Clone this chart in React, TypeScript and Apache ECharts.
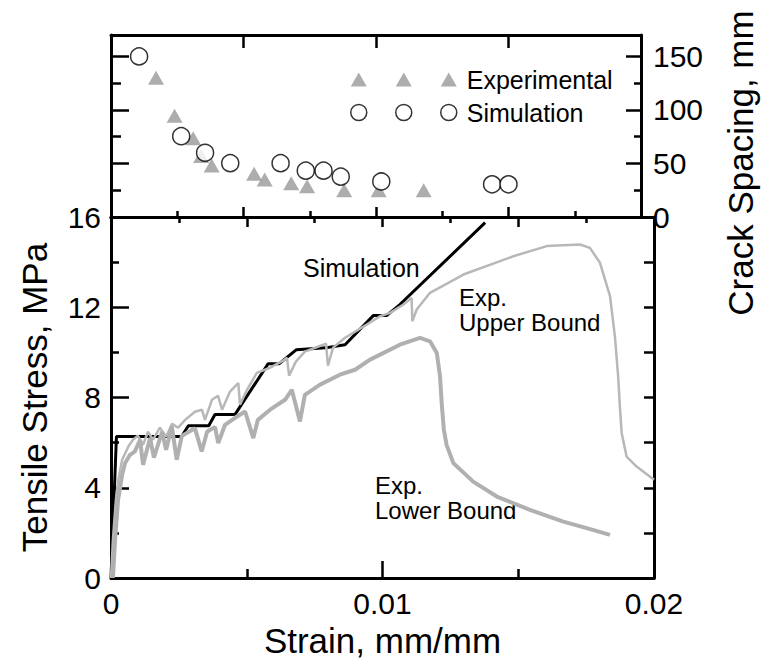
import React, { useEffect, useRef } from 'react';
import * as echarts from 'echarts';

// ---- Crack spacing (top panel) ----
const expCrackStrain = [0.0017, 0.0024, 0.0031, 0.0034, 0.0038, 0.0054, 0.0058, 0.0068, 0.0074, 0.0088, 0.0101, 0.0118];
const expCrackSpacing = [130, 94.5, 73.5, 57, 48, 40.4, 35, 31.5, 28.8, 25, 25, 25];
const simCrackStrain = [0.00106, 0.00265, 0.00355, 0.0045, 0.0064, 0.00735, 0.00802, 0.00867, 0.0102, 0.01438, 0.015];
const simCrackSpacing = [150, 75.5, 60, 50.3, 50.3, 43.3, 43.3, 37.7, 33.2, 30.5, 30.5];

// ---- Stress-strain (bottom panel) ----
const simStrain = [0, 0.0002, 0.0026, 0.00285, 0.0036, 0.00383, 0.00457, 0.00579, 0.0062, 0.00683, 0.0079, 0.00862, 0.00966, 0.01015, 0.01064, 0.01378];
const simStress = [0, 6.27, 6.27, 6.75, 6.75, 7.25, 7.25, 9.5, 9.5, 10.12, 10.2, 10.34, 11.63, 11.63, 12.12, 15.75];

const upperStrain = [0, 0.00007, 0.00018, 0.00027, 0.00041, 0.00064, 0.00081, 0.00099, 0.00118, 0.00136, 0.00155, 0.0018, 0.00203, 0.00225, 0.00247, 0.00273, 0.00309, 0.00335, 0.00346, 0.00372, 0.00394, 0.00409, 0.00438, 0.00469, 0.00475, 0.00501, 0.00537, 0.00586, 0.00634, 0.00648, 0.00656, 0.00681, 0.00714, 0.00762, 0.00792, 0.00799, 0.00818, 0.00862, 0.00942, 0.00991, 0.01028, 0.01077, 0.01107, 0.0111, 0.01126, 0.01175, 0.01298, 0.01482, 0.01605, 0.01727, 0.01764, 0.01801, 0.01838, 0.01856, 0.01868, 0.01875, 0.01881, 0.01899, 0.01936, 0.02];
const upperStress = [0, 1.69, 3.46, 4.35, 5.24, 5.83, 6.13, 6.3, 5.9, 6.48, 6.13, 6.66, 6.26, 6.84, 6.66, 7.01, 7.37, 7.46, 7.01, 7.9, 8.08, 7.46, 8.26, 8.64, 7.68, 8.34, 9.09, 9.32, 9.63, 9.76, 8.97, 9.59, 10.03, 10.25, 10.39, 9.41, 10.21, 10.65, 11.23, 11.6, 11.75, 12.12, 12.41, 11.38, 11.9, 12.64, 13.45, 14.26, 14.71, 14.78, 14.63, 13.97, 12.49, 10.71, 8.93, 7.46, 6.42, 5.38, 4.94, 4.35];

const lowerStrain = [0.00007, 0.00015, 0.00026, 0.00041, 0.00052, 0.0007, 0.00088, 0.00107, 0.00118, 0.00144, 0.00158, 0.00188, 0.00203, 0.00224, 0.00242, 0.00261, 0.00309, 0.00334, 0.00354, 0.00383, 0.00395, 0.0042, 0.00457, 0.00494, 0.00524, 0.00541, 0.00586, 0.00641, 0.00666, 0.00696, 0.00714, 0.0077, 0.00843, 0.00899, 0.00954, 0.00991, 0.01064, 0.01138, 0.01175, 0.012, 0.01212, 0.01218, 0.01226, 0.01236, 0.01261, 0.01334, 0.01421, 0.01543, 0.01666, 0.01752, 0.01838];
const lowerStress = [0, 1.69, 3.46, 4.57, 5.1, 5.46, 5.61, 6.13, 5.02, 6.21, 5.33, 6.48, 5.68, 6.72, 5.24, 6.3, 6.64, 5.61, 6.48, 6.7, 5.98, 6.79, 7.1, 7.38, 6.2, 7.01, 7.46, 7.9, 8.34, 6.94, 8.12, 8.57, 9.01, 9.23, 9.68, 9.9, 10.34, 10.64, 10.49, 9.97, 8.93, 7.75, 6.57, 5.9, 5.09, 4.27, 3.61, 3.02, 2.5, 2.21, 1.91];

const strainTicks = [0, 0.01, 0.02];
const stressTicks = [0, 4, 8, 12, 16];
const spacingTicks = [0, 50, 100, 150];

const FONT = '"Liberation Sans", Arial, sans-serif';

const zip = (xs: number[], ys: number[]) => xs.map((x, i) => [x, ys[i]]);

export default function App() {
  const ref = useRef<HTMLDivElement>(null);
  useEffect(() => {
    const chart = echarts.init(ref.current!, null, { renderer: 'svg' });
    const line = { lineStyle: { color: '#000', width: 3 } };
    const tick = (len: number, show = true) => ({ show, inside: true, length: len, lineStyle: { color: '#000', width: 2.5 } });
    const minor = (len: number, show = true) => ({ show, splitNumber: 2, length: len, lineStyle: { color: '#000', width: 2.5 } });
    const labelStyle = { color: '#000', fontSize: 30, fontFamily: FONT };
    const nameStyle = { color: '#000', fontSize: 35, fontFamily: FONT };

    const triIcon = 'path://M0,14L8,0L16,14Z M45,14L53,0L61,14Z M90,14L98,0L106,14Z M111,7L111,7';
    const circIcon = 'path://M0,8a8,8 0 1,0 16,0a8,8 0 1,0 -16,0Z M45,8a8,8 0 1,0 16,0a8,8 0 1,0 -16,0Z M90,8a8,8 0 1,0 16,0a8,8 0 1,0 -16,0Z M111,8L111,8';

    chart.setOption({
      animation: false,
      backgroundColor: '#fff',
      grid: [
        { left: 111, top: 35, width: 543, height: 182 },
        { left: 111, top: 217, width: 543, height: 361 },
      ],
      legend: {
        orient: 'vertical',
        left: 350,
        top: 67,
        padding: 0,
        itemGap: 8,
        itemWidth: 111,
        itemHeight: 16,
        textStyle: { color: '#000', fontSize: 25, fontFamily: FONT },
        data: [
          { name: 'Experimental', icon: triIcon, itemStyle: { color: '#999', borderWidth: 0 } },
          { name: 'Simulation', icon: circIcon, itemStyle: { color: '#fff', borderColor: '#000', borderWidth: 1.5 } },
        ],
      },
      xAxis: [
        { type: 'value', gridIndex: 0, position: 'bottom', min: 0, max: 0.02, interval: 0.005,
          axisLine: { onZero: false, ...line }, axisTick: tick(10), minorTick: minor(6), axisLabel: { show: false }, splitLine: { show: false } },
        { type: 'value', gridIndex: 0, position: 'top', min: 0, max: 0.02, interval: 0.005,
          axisLine: { onZero: false, ...line }, axisTick: tick(13), minorTick: minor(6, false), axisLabel: { show: false }, splitLine: { show: false } },
        { type: 'value', gridIndex: 1, position: 'bottom', min: strainTicks[0], max: strainTicks[2], interval: 0.01,
          axisLine: { onZero: false, ...line }, axisTick: tick(17), minorTick: minor(9),
          axisLabel: { ...labelStyle, margin: 10, formatter: (v: number) => (strainTicks.includes(v) ? String(v) : '') },
          splitLine: { show: false },
          name: 'Strain, mm/mm', nameLocation: 'middle', nameGap: 39, nameTextStyle: nameStyle },
        { type: 'value', gridIndex: 1, position: 'top', min: 0, max: 0.02, interval: 0.005,
          axisLine: { onZero: false, ...line }, axisTick: tick(10), minorTick: minor(6), axisLabel: { show: false }, splitLine: { show: false } },
      ],
      yAxis: [
        { type: 'value', gridIndex: 0, position: 'left', min: 0, max: 170, interval: 50,
          axisLine: { onZero: false, ...line }, axisTick: tick(18), minorTick: minor(10), axisLabel: { show: false }, splitLine: { show: false } },
        { type: 'value', gridIndex: 0, position: 'right', min: 0, max: 170, interval: 50,
          axisLine: { onZero: false, ...line }, axisTick: tick(15), minorTick: minor(7),
          axisLabel: { ...labelStyle, margin: 12, showMaxLabel: false, formatter: (v: number) => (spacingTicks.includes(v) ? String(v) : '') },
          splitLine: { show: false },
          name: 'Crack Spacing, mm', nameLocation: 'middle', nameGap: 82, nameRotate: 90,
          nameTextStyle: { ...nameStyle, padding: [0, 74, 0, 0] } },
        { type: 'value', gridIndex: 1, position: 'left', min: stressTicks[0], max: stressTicks[4], interval: 4,
          axisLine: { onZero: false, ...line }, axisTick: tick(18), minorTick: minor(8),
          axisLabel: { ...labelStyle, margin: 10 }, splitLine: { show: false },
          name: 'Tensile Stress, MPa', nameLocation: 'middle', nameGap: 59, nameTextStyle: nameStyle },
        { type: 'value', gridIndex: 1, position: 'right', min: 0, max: 16, interval: 2,
          axisLine: { onZero: false, ...line }, axisTick: tick(10), minorTick: minor(5, false), axisLabel: { show: false }, splitLine: { show: false } },
      ],
      series: [
        { name: 'Experimental', type: 'scatter', xAxisIndex: 0, yAxisIndex: 1, symbol: 'triangle', symbolSize: [16, 14],
          itemStyle: { color: '#999' }, data: zip(expCrackStrain, expCrackSpacing), z: 3 },
        { name: 'Simulation', type: 'scatter', xAxisIndex: 0, yAxisIndex: 1, symbol: 'circle', symbolSize: 17,
          itemStyle: { color: '#fff', borderColor: '#000', borderWidth: 1.5 }, data: zip(simCrackStrain, simCrackSpacing), z: 4 },
        { name: 'Simulation stress', type: 'line', xAxisIndex: 2, yAxisIndex: 2, showSymbol: false, symbol: 'none',
          lineStyle: { color: '#000', width: 3 }, data: zip(simStrain, simStress), z: 2 },
        { name: 'Exp. Upper Bound', type: 'line', xAxisIndex: 2, yAxisIndex: 2, showSymbol: false, symbol: 'none',
          lineStyle: { color: '#b8b8b8', width: 2.5 }, data: zip(upperStrain, upperStress), z: 3 },
        { name: 'Exp. Lower Bound', type: 'line', xAxisIndex: 2, yAxisIndex: 2, showSymbol: false, symbol: 'none',
          lineStyle: { color: '#b0b0b0', width: 4 }, data: zip(lowerStrain, lowerStress), z: 3 },
      ],
      graphic: [
        { type: 'text', x: 303, y: 268, style: { text: 'Simulation', font: `25px ${FONT}`, fill: '#000', textVerticalAlign: 'middle' } },
        { type: 'text', x: 459, y: 297, style: { text: 'Exp.', font: `24px ${FONT}`, fill: '#000', textVerticalAlign: 'middle' } },
        { type: 'text', x: 459, y: 322, style: { text: 'Upper Bound', font: `24px ${FONT}`, fill: '#000', textVerticalAlign: 'middle' } },
        { type: 'text', x: 375, y: 485, style: { text: 'Exp.', font: `24px ${FONT}`, fill: '#000', textVerticalAlign: 'middle' } },
        { type: 'text', x: 375, y: 510, style: { text: 'Lower Bound', font: `24px ${FONT}`, fill: '#000', textVerticalAlign: 'middle' } },
      ],
    });
    return () => chart.dispose();
  }, []);
  return <div ref={ref} style={{ position: 'absolute', left: 0, top: 0, width: 766, height: 663, background: '#fff' }} />;
}
